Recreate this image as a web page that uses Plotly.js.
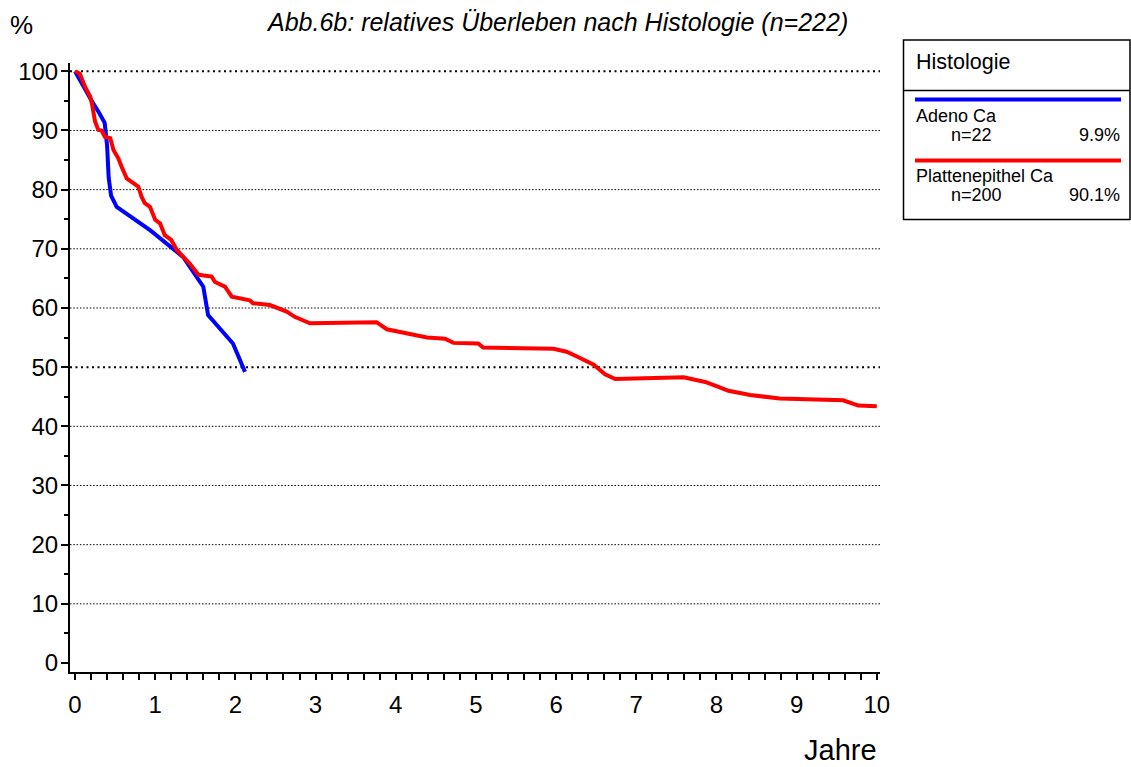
<!DOCTYPE html>
<html>
<head>
<meta charset="utf-8">
<script src="https://cdn.plot.ly/plotly-3.0.1.min.js"></script>
<style>html,body{margin:0;padding:0;background:#fff;}</style>
</head>
<body>
<div id="chart" style="width:1131px;height:767px;"></div>
<script>
// Data
const adenoYears = [0, 0.1, 0.2, 0.3, 0.37, 0.40, 0.42, 0.45, 0.52, 0.94, 1.35, 1.60, 1.66, 1.97, 2.12];
const adenoSurv  = [100, 97.5, 95.2, 93.0, 91.3, 87.5, 82.0, 79.0, 77.1, 73.1, 68.6, 63.6, 58.8, 54.0, 49.2];

const plattYears = [0, 0.06, 0.125, 0.19, 0.21, 0.25, 0.29, 0.33, 0.374, 0.44, 0.48, 0.54, 0.58, 0.645, 0.79, 0.83, 0.87, 0.935, 1.0, 1.06, 1.12, 1.2, 1.27, 1.43, 1.54, 1.705, 1.746, 1.87, 1.955, 2.18, 2.22, 2.43, 2.64, 2.74, 2.93, 3.18, 3.76, 3.89, 4.18, 4.39, 4.615, 4.72, 5.03, 5.09, 5.97, 6.13, 6.26, 6.47, 6.61, 6.74, 7.59, 7.86, 8.0, 8.15, 8.42, 8.79, 9.58, 9.77, 10.0];
const plattSurv  = [100, 99.6, 97.4, 95.7, 94.6, 91.5, 90.1, 90.0, 88.9, 88.7, 86.7, 85.3, 83.9, 81.9, 80.5, 78.8, 77.7, 77.1, 74.9, 74.3, 72.3, 71.5, 69.8, 67.5, 65.6, 65.3, 64.4, 63.6, 61.9, 61.3, 60.8, 60.5, 59.4, 58.5, 57.4, 57.5, 57.6, 56.4, 55.6, 55.0, 54.8, 54.1, 54.0, 53.3, 53.1, 52.6, 51.8, 50.4, 48.8, 48.0, 48.3, 47.5, 46.8, 46.0, 45.3, 44.7, 44.4, 43.5, 43.4];

const seriesNames = ["Adeno Ca", "Plattenepithel Ca"];
const seriesN     = ["n=22", "n=200"];
const seriesPct   = ["9.9%", "90.1%"];
const seriesColors = ["#0000ff", "#ff0000"];

const yTickVals = [0, 10, 20, 30, 40, 50, 60, 70, 80, 90, 100];
const xTickVals = [0, 1, 2, 3, 4, 5, 6, 7, 8, 9, 10];
const gridVals = [10, 20, 30, 40, 50, 60, 70, 80, 90, 100];
const strongGrid = [50, 100];

const titleText = "Abb.6b: relatives Überleben nach Histologie (n=222)";

// layout geometry (pixels)
const W = 1131, H = 767;
const mL = 70, mR = 251, mT = 63, mB = 95;
const plotW = W - mL - mR, plotH = H - mT - mB;
const px = x => (x - mL) / plotW;
const py = y => (H - mB - y) / plotH;

const FONT = "Liberation Sans, Arial, sans-serif";

const traces = [
  {x: adenoYears, y: adenoSurv, mode: "lines", line: {color: seriesColors[0], width: 4}, hoverinfo: "x+y", showlegend: false},
  {x: plattYears, y: plattSurv, mode: "lines", line: {color: seriesColors[1], width: 4}, hoverinfo: "x+y", showlegend: false}
];

const shapes = [];
gridVals.forEach(v => {
  const strong = strongGrid.includes(v);
  shapes.push({type: "line", xref: "paper", yref: "y", x0: 0, x1: 1, y0: v, y1: v, layer: "below",
    line: {color: "#000", width: strong ? 2 : 1, dash: strong ? "2px,3.5px" : "1.5px,1.8px"}});
});

// legend box
shapes.push({type: "rect", xref: "paper", yref: "paper", x0: px(903.5), x1: px(1130), y0: py(40), y1: py(219.5), line: {color: "#000", width: 1.5}, fillcolor: "rgba(0,0,0,0)"});
shapes.push({type: "line", xref: "paper", yref: "paper", x0: px(903.5), x1: px(1130), y0: py(90.5), y1: py(90.5), line: {color: "#000", width: 1.5}});
const legLineY = [99.5, 160.5];
const legNameY = [116.5, 176];
const legNY = [134.5, 194.5];
legLineY.forEach((ly, i) => {
  shapes.push({type: "line", xref: "paper", yref: "paper", x0: px(915), x1: px(1121), y0: py(ly), y1: py(ly), line: {color: seriesColors[i], width: 4}});
});

const annotations = [
  {text: titleText, xref: "paper", yref: "paper", x: px(557), y: py(22), xanchor: "center", yanchor: "middle", showarrow: false,
   font: {family: FONT, size: 25, color: "#000", style: "italic"}},
  {text: "%", xref: "paper", yref: "paper", x: px(21), y: py(25), xanchor: "center", yanchor: "middle", showarrow: false,
   font: {family: FONT, size: 26, color: "#000"}},
  {text: "Jahre", xref: "paper", yref: "paper", x: px(879), y: py(750), xanchor: "right", yanchor: "middle", showarrow: false,
   font: {family: FONT, size: 29, color: "#000"}},
  {text: "Histologie", xref: "paper", yref: "paper", x: px(914), y: py(62), xanchor: "left", yanchor: "middle", showarrow: false,
   font: {family: FONT, size: 21.5, color: "#000"}}
];
seriesNames.forEach((n, i) => {
  annotations.push({text: n, xref: "paper", yref: "paper", x: px(914), y: py(legNameY[i]), xanchor: "left", yanchor: "middle", showarrow: false,
    font: {family: FONT, size: 18, color: "#000"}});
  annotations.push({text: seriesN[i], xref: "paper", yref: "paper", x: px(949), y: py(legNY[i]), xanchor: "left", yanchor: "middle", showarrow: false,
    font: {family: FONT, size: 18, color: "#000"}});
  annotations.push({text: seriesPct[i], xref: "paper", yref: "paper", x: px(1122), y: py(legNY[i]), xanchor: "right", yanchor: "middle", showarrow: false,
    font: {family: FONT, size: 18, color: "#000"}});
});

const layout = {
  width: W, height: H,
  margin: {l: mL, r: mR, t: mT, b: mB, pad: 0},
  paper_bgcolor: "#fff", plot_bgcolor: "#fff",
  font: {family: FONT, size: 24, color: "#000"},
  showlegend: false,
  xaxis: {
    range: [-0.0624, 10.04], tickvals: xTickVals, ticktext: xTickVals.map(String),
    showgrid: false, zeroline: false, showline: true, linecolor: "#000", linewidth: 2,
    ticks: "outside", ticklen: 6, tickwidth: 2, tickcolor: "#000", ticklabelstandoff: 4,
    tickfont: {family: FONT, size: 24, color: "#000"},
    minor: {dtick: 0.2, tick0: 0, ticks: "outside", ticklen: 6, tickwidth: 2, tickcolor: "#000", showgrid: false},
    fixedrange: true
  },
  yaxis: {
    range: [-1.52, 101.4], tickvals: yTickVals, ticktext: yTickVals.map(String),
    showgrid: false, zeroline: false, showline: true, linecolor: "#000", linewidth: 2,
    ticks: "outside", ticklen: 7, tickwidth: 2, tickcolor: "#000", ticklabelstandoff: -2,
    tickfont: {family: FONT, size: 24, color: "#000"},
    minor: {dtick: 5, tick0: 0, ticks: "outside", ticklen: 4, tickwidth: 2, tickcolor: "#000", showgrid: false},
    fixedrange: true
  },
  shapes: shapes,
  annotations: annotations
};

Plotly.newPlot("chart", traces, layout, {displayModeBar: false, staticPlot: true});
</script>
</body>
</html>
